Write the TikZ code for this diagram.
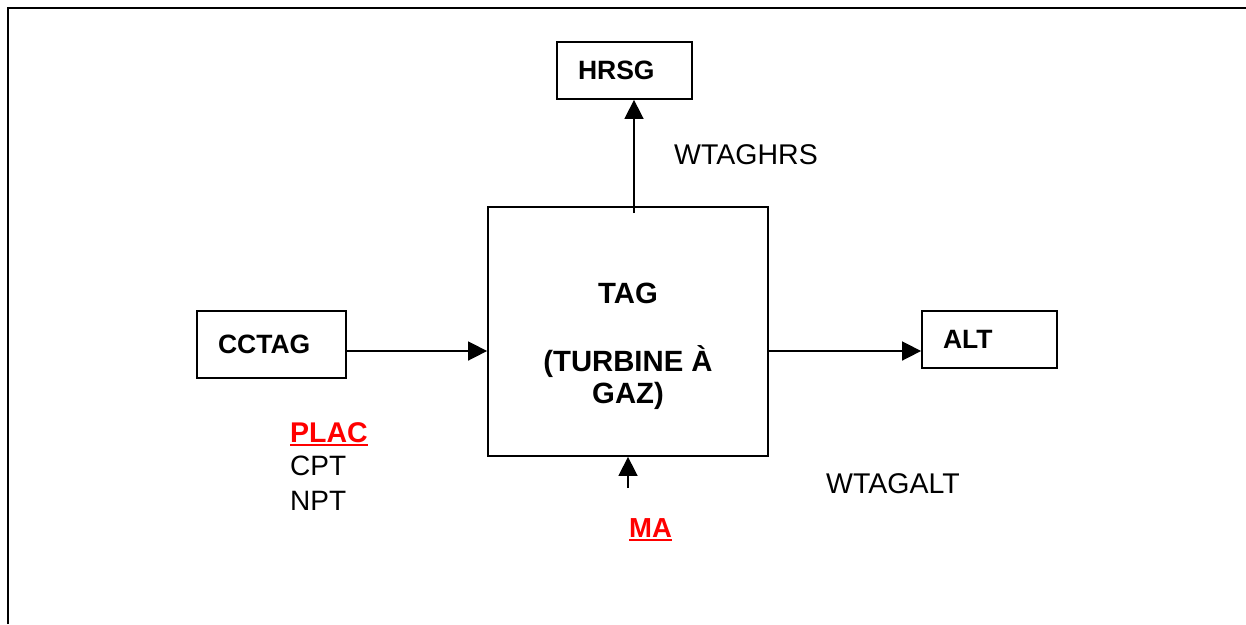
\documentclass[tikz,border=0pt]{standalone}
\usepackage{fontspec}
\setmainfont{Liberation Sans}
\usetikzlibrary{arrows.meta}
\begin{document}
\begin{tikzpicture}[x=1pt,y=-1pt,
 box/.style={draw,line width=1.8pt,inner xsep=21pt,inner ysep=0pt,align=left,font=\fontsize{26.5}{31}\selectfont\bfseries},
 flow/.style={line width=1.6pt,-{Triangle[length=19pt,width=19pt]}},
 lbl/.style={inner sep=0pt,anchor=base west,font=\fontsize{28.5}{33}\selectfont},
 taglbl/.style={inner sep=0pt,anchor=base,font=\fontsize{29.3}{33}\selectfont\bfseries},
 redlbl/.style={inner sep=0pt,anchor=base west,text=red,font=\fontsize{28.5}{33}\selectfont\bfseries},
 uline/.style={red,line width=1.5pt}]
\useasboundingbox (0,0) rectangle (1246,624);
\fill[white] (0,0) rectangle (1246,624);
\draw[line width=2.6pt] (8,624) -- (8,8) -- (1246,8);
% boxes
\node[box,text width=93pt,minimum height=57pt] (hrsg) at (624.5,70.5) {HRSG};
\node[box,text width=107pt,minimum height=67pt] (cctag) at (271.5,344.5) {CCTAG};
\node[box,text width=93pt,minimum height=57pt] (alt) at (989.5,339.5) {ALT};
\node[draw,line width=1.8pt,minimum width=280pt,minimum height=249pt,inner sep=0pt] (tag) at (628,331.5) {};
\node[taglbl] (tagl1) at (628,303) {TAG};
\node[taglbl] (tagl2) at (628,371) {(TURBINE À};
\node[taglbl] (tagl3) at (628,403) {GAZ)};
% connectors
\draw[flow] (cctag.east |- 0,351) -- (tag.west |- 0,351);
\draw[flow] (tag.east |- 0,351) -- (alt.west |- 0,351);
\coordinate (hstart) at (634,213);
\draw[flow] (hstart) -- (hstart |- hrsg.south);
\coordinate (mastart) at (628,488);
\draw[flow] (mastart) -- (mastart |- tag.south);
% labels
\node[lbl] (wtaghrs) at (674,164) {WTAGHRS};
\node[lbl] (wtagalt) at (826,493) {WTAGALT};
\node[redlbl] (plac) at (290,442) {PLAC};
\node[lbl,font=\fontsize{28}{33}\selectfont] (cpt) at (290,475) {CPT};
\node[lbl,font=\fontsize{28}{33}\selectfont] (npt) at (290,510) {NPT};
\node[redlbl,font=\fontsize{27.5}{33}\selectfont\bfseries] (ma) at (629,537) {MA};
\draw[uline] ([yshift=-3pt]plac.base west) -- ([yshift=-3pt]plac.base east);
\draw[uline] ([yshift=-3pt]ma.base west) -- ([yshift=-3pt]ma.base east);
\end{tikzpicture}
\end{document}
